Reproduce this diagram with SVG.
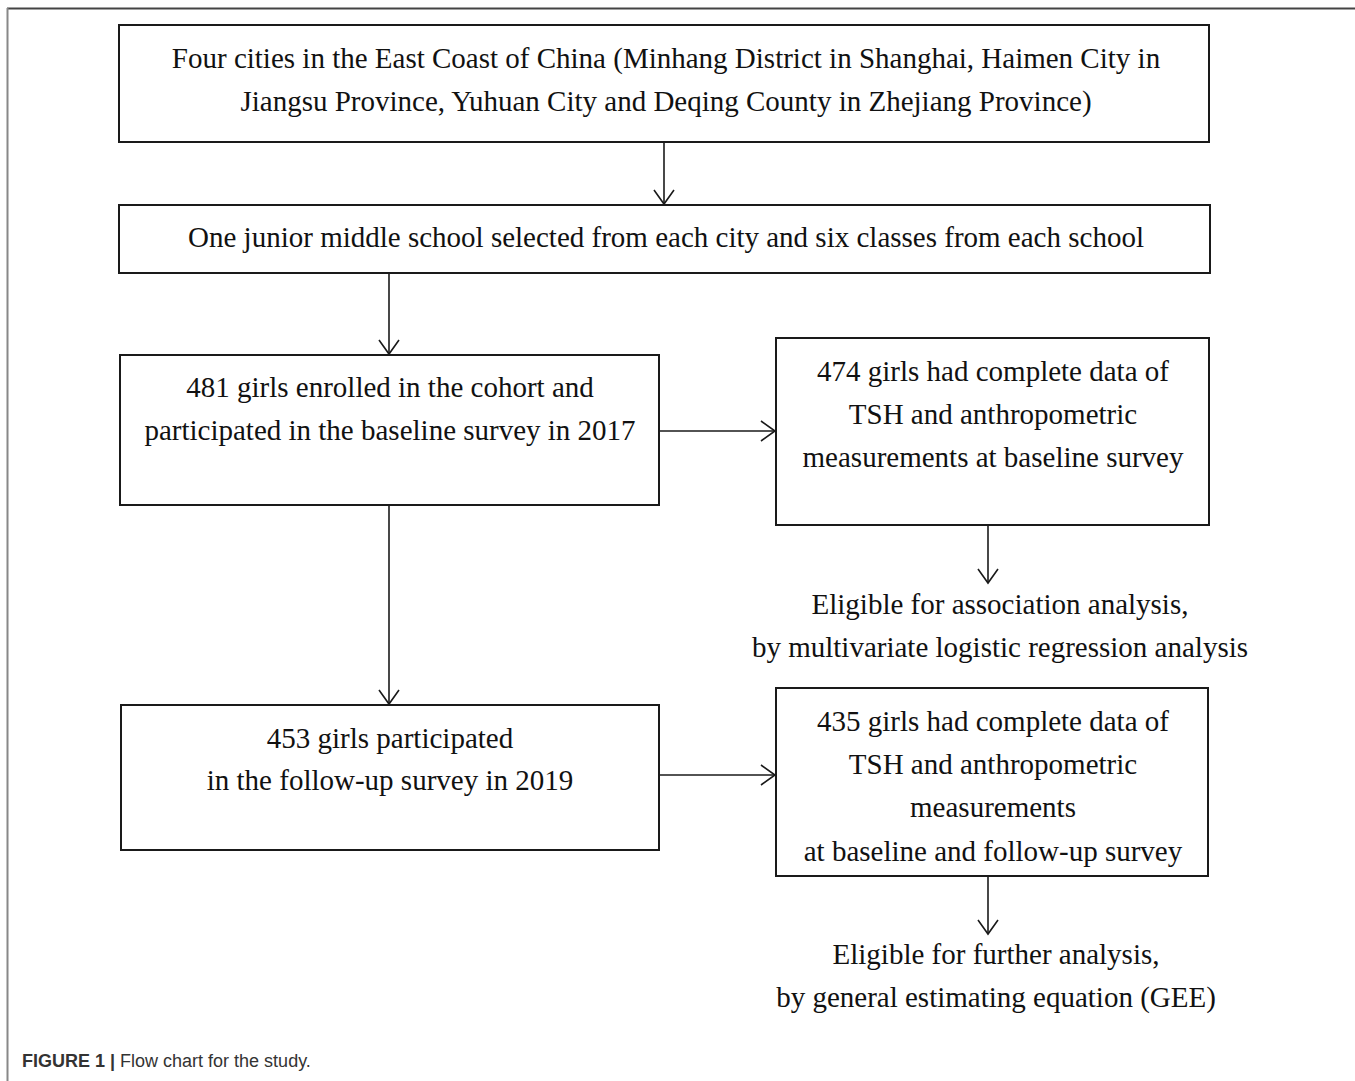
<svg xmlns="http://www.w3.org/2000/svg" width="1355" height="1081" viewBox="0 0 1355 1081">
<defs>
<style>
.box{fill:#fff;stroke:#1a1a1a;stroke-width:2}
.t{font-family:"Liberation Serif","Times New Roman",serif;font-size:29px;fill:#111;text-anchor:middle}
.c{stroke:#1a1a1a;stroke-width:1.6;fill:none}
.cap{font-family:"Liberation Sans",Arial,sans-serif;font-size:18px;fill:#333}
</style>
<marker id="ah" viewBox="-15 -11 17 22" markerWidth="17" markerHeight="22" refX="0" refY="0" orient="auto" markerUnits="userSpaceOnUse">
<path d="M-14,-10 L0,0 L-14,10" fill="none" stroke="#1a1a1a" stroke-width="1.6"/>
</marker>
</defs>
<rect width="1355" height="1081" fill="#fff"/>
<g id="frame">
<line x1="7" y1="8.5" x2="1355" y2="8.5" stroke="#444" stroke-width="2"/>
<line x1="7.5" y1="8" x2="7.5" y2="1081" stroke="#888" stroke-width="2"/>
</g>
<g id="connectors">
<line class="c" x1="664" y1="142" x2="664" y2="204" marker-end="url(#ah)"/>
<line class="c" x1="389" y1="273" x2="389" y2="354" marker-end="url(#ah)"/>
<line class="c" x1="389" y1="505" x2="389" y2="704" marker-end="url(#ah)"/>
<line class="c" x1="659" y1="431" x2="775" y2="431" marker-end="url(#ah)"/>
<line class="c" x1="988" y1="525" x2="988" y2="583" marker-end="url(#ah)"/>
<line class="c" x1="659" y1="775" x2="775" y2="775" marker-end="url(#ah)"/>
<line class="c" x1="988" y1="876" x2="988" y2="934" marker-end="url(#ah)"/>
</g>
<g id="n1">
<rect class="box" x="119" y="25" width="1090" height="117"/>
<text class="t" x="666" y="68">Four cities in the East Coast of China (Minhang District in Shanghai, Haimen City in</text>
<text class="t" x="666" y="111">Jiangsu Province, Yuhuan City and Deqing County in Zhejiang Province)</text>
</g>
<g id="n2">
<rect class="box" x="119" y="205" width="1091" height="68"/>
<text class="t" x="666" y="247">One junior middle school selected from each city and six classes from each school</text>
</g>
<g id="n3">
<rect class="box" x="120" y="355" width="539" height="150"/>
<text class="t" x="390" y="397">481 girls enrolled in the cohort and</text>
<text class="t" x="390" y="440">participated in the baseline survey in 2017</text>
</g>
<g id="n4">
<rect class="box" x="776" y="338" width="433" height="187"/>
<text class="t" x="993" y="381">474 girls had complete data of</text>
<text class="t" x="993" y="424">TSH and anthropometric</text>
<text class="t" x="993" y="467">measurements at baseline survey</text>
</g>
<g id="n5">
<text class="t" x="1000" y="614">Eligible for association analysis,</text>
<text class="t" x="1000" y="657">by multivariate logistic regression analysis</text>
</g>
<g id="n6">
<rect class="box" x="121" y="705" width="538" height="145"/>
<text class="t" x="390" y="748">453 girls participated</text>
<text class="t" x="390" y="790">in the follow-up survey in 2019</text>
</g>
<g id="n7">
<rect class="box" x="776" y="688" width="432" height="188"/>
<text class="t" x="993" y="731">435 girls had complete data of</text>
<text class="t" x="993" y="774">TSH and anthropometric</text>
<text class="t" x="993" y="817">measurements</text>
<text class="t" x="993" y="861">at baseline and follow-up survey</text>
</g>
<g id="n8">
<text class="t" x="996" y="964">Eligible for further analysis,</text>
<text class="t" x="996" y="1007">by general estimating equation (GEE)</text>
</g>
<g id="caption">
<text class="cap" x="22" y="1067"><tspan font-weight="bold">FIGURE 1 |</tspan> Flow chart for the study.</text>
</g>
</svg>
